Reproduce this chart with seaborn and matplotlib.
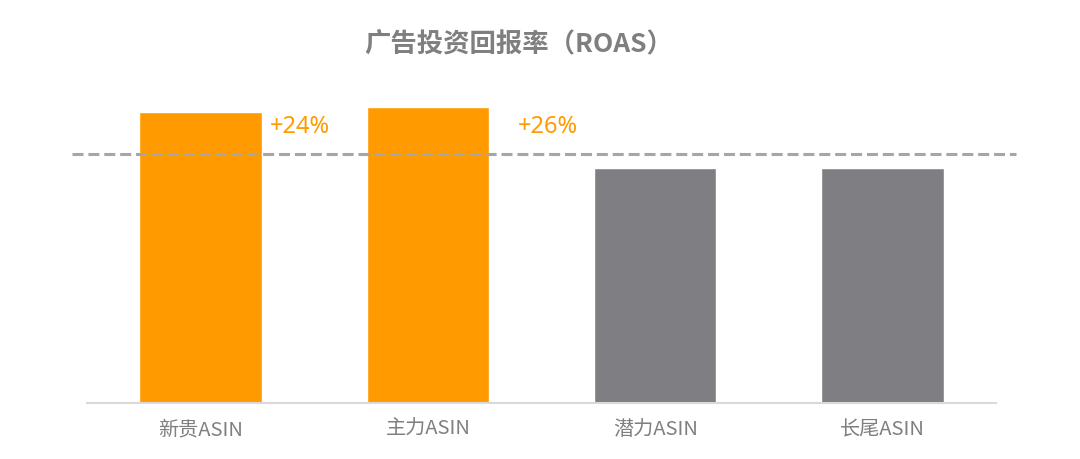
import matplotlib
matplotlib.use("Agg")
import matplotlib.pyplot as plt
import seaborn as sns
import pandas as pd

categories = ["新贵ASIN", "主力ASIN", "潜力ASIN", "长尾ASIN"]
roas = [1.24, 1.26, 1.0, 1.0]
uplift_labels = ["+24%", "+26%", "", ""]
reference_level = 1.06
title = "广告投资回报率（ROAS）"

colors = ["#FF9B00", "#FF9B00", "#7F7F83", "#7F7F83"]

sns.set_theme(style="white")
plt.rcParams["font.family"] = ["Noto Sans CJK SC", "DejaVu Sans"]

df = pd.DataFrame({"cat": categories, "roas": roas})

fig = plt.figure(figsize=(10.8, 4.6), dpi=100)
ax = fig.add_axes([87/1080, 56/460, 909/1080, 324/460])
sns.barplot(data=df, x="cat", y="roas", hue="cat", palette=colors,
            width=0.54, legend=False, ax=ax, saturation=1)
ax.set_xlim(-0.5, 3.5)
ax.set_ylim(0, 1.38)
ax.plot([-0.566, 3.59], [reference_level, reference_level], color="#A6A6A6",
        lw=2.2, dashes=(3.6, 1.6), clip_on=False, zorder=5)

offsets = [0.305, 0.395]
for i, lab in enumerate(uplift_labels):
    if lab:
        ax.text(i + offsets[i], 1.178, lab, color="#FF9B00", fontsize=17,
                ha="left", va="center", family=["Noto Sans", "DejaVu Sans"])

for s in ["top", "right", "left"]:
    ax.spines[s].set_visible(False)
ax.spines["bottom"].set_color("#D9D9D9")
ax.spines["bottom"].set_linewidth(1.5)
ax.set_yticks([])
ax.set_xlabel("")
ax.set_ylabel("")
ax.tick_params(axis="x", length=0, pad=11, labelsize=14.5, labelcolor="#7F7F7F")

fig.text(519/1080, 1 - 45/460, title, ha="center", va="center",
         fontsize=19, fontweight="bold", color="#7F7F7F")

fig.savefig("out.png", dpi=100, facecolor="white")
